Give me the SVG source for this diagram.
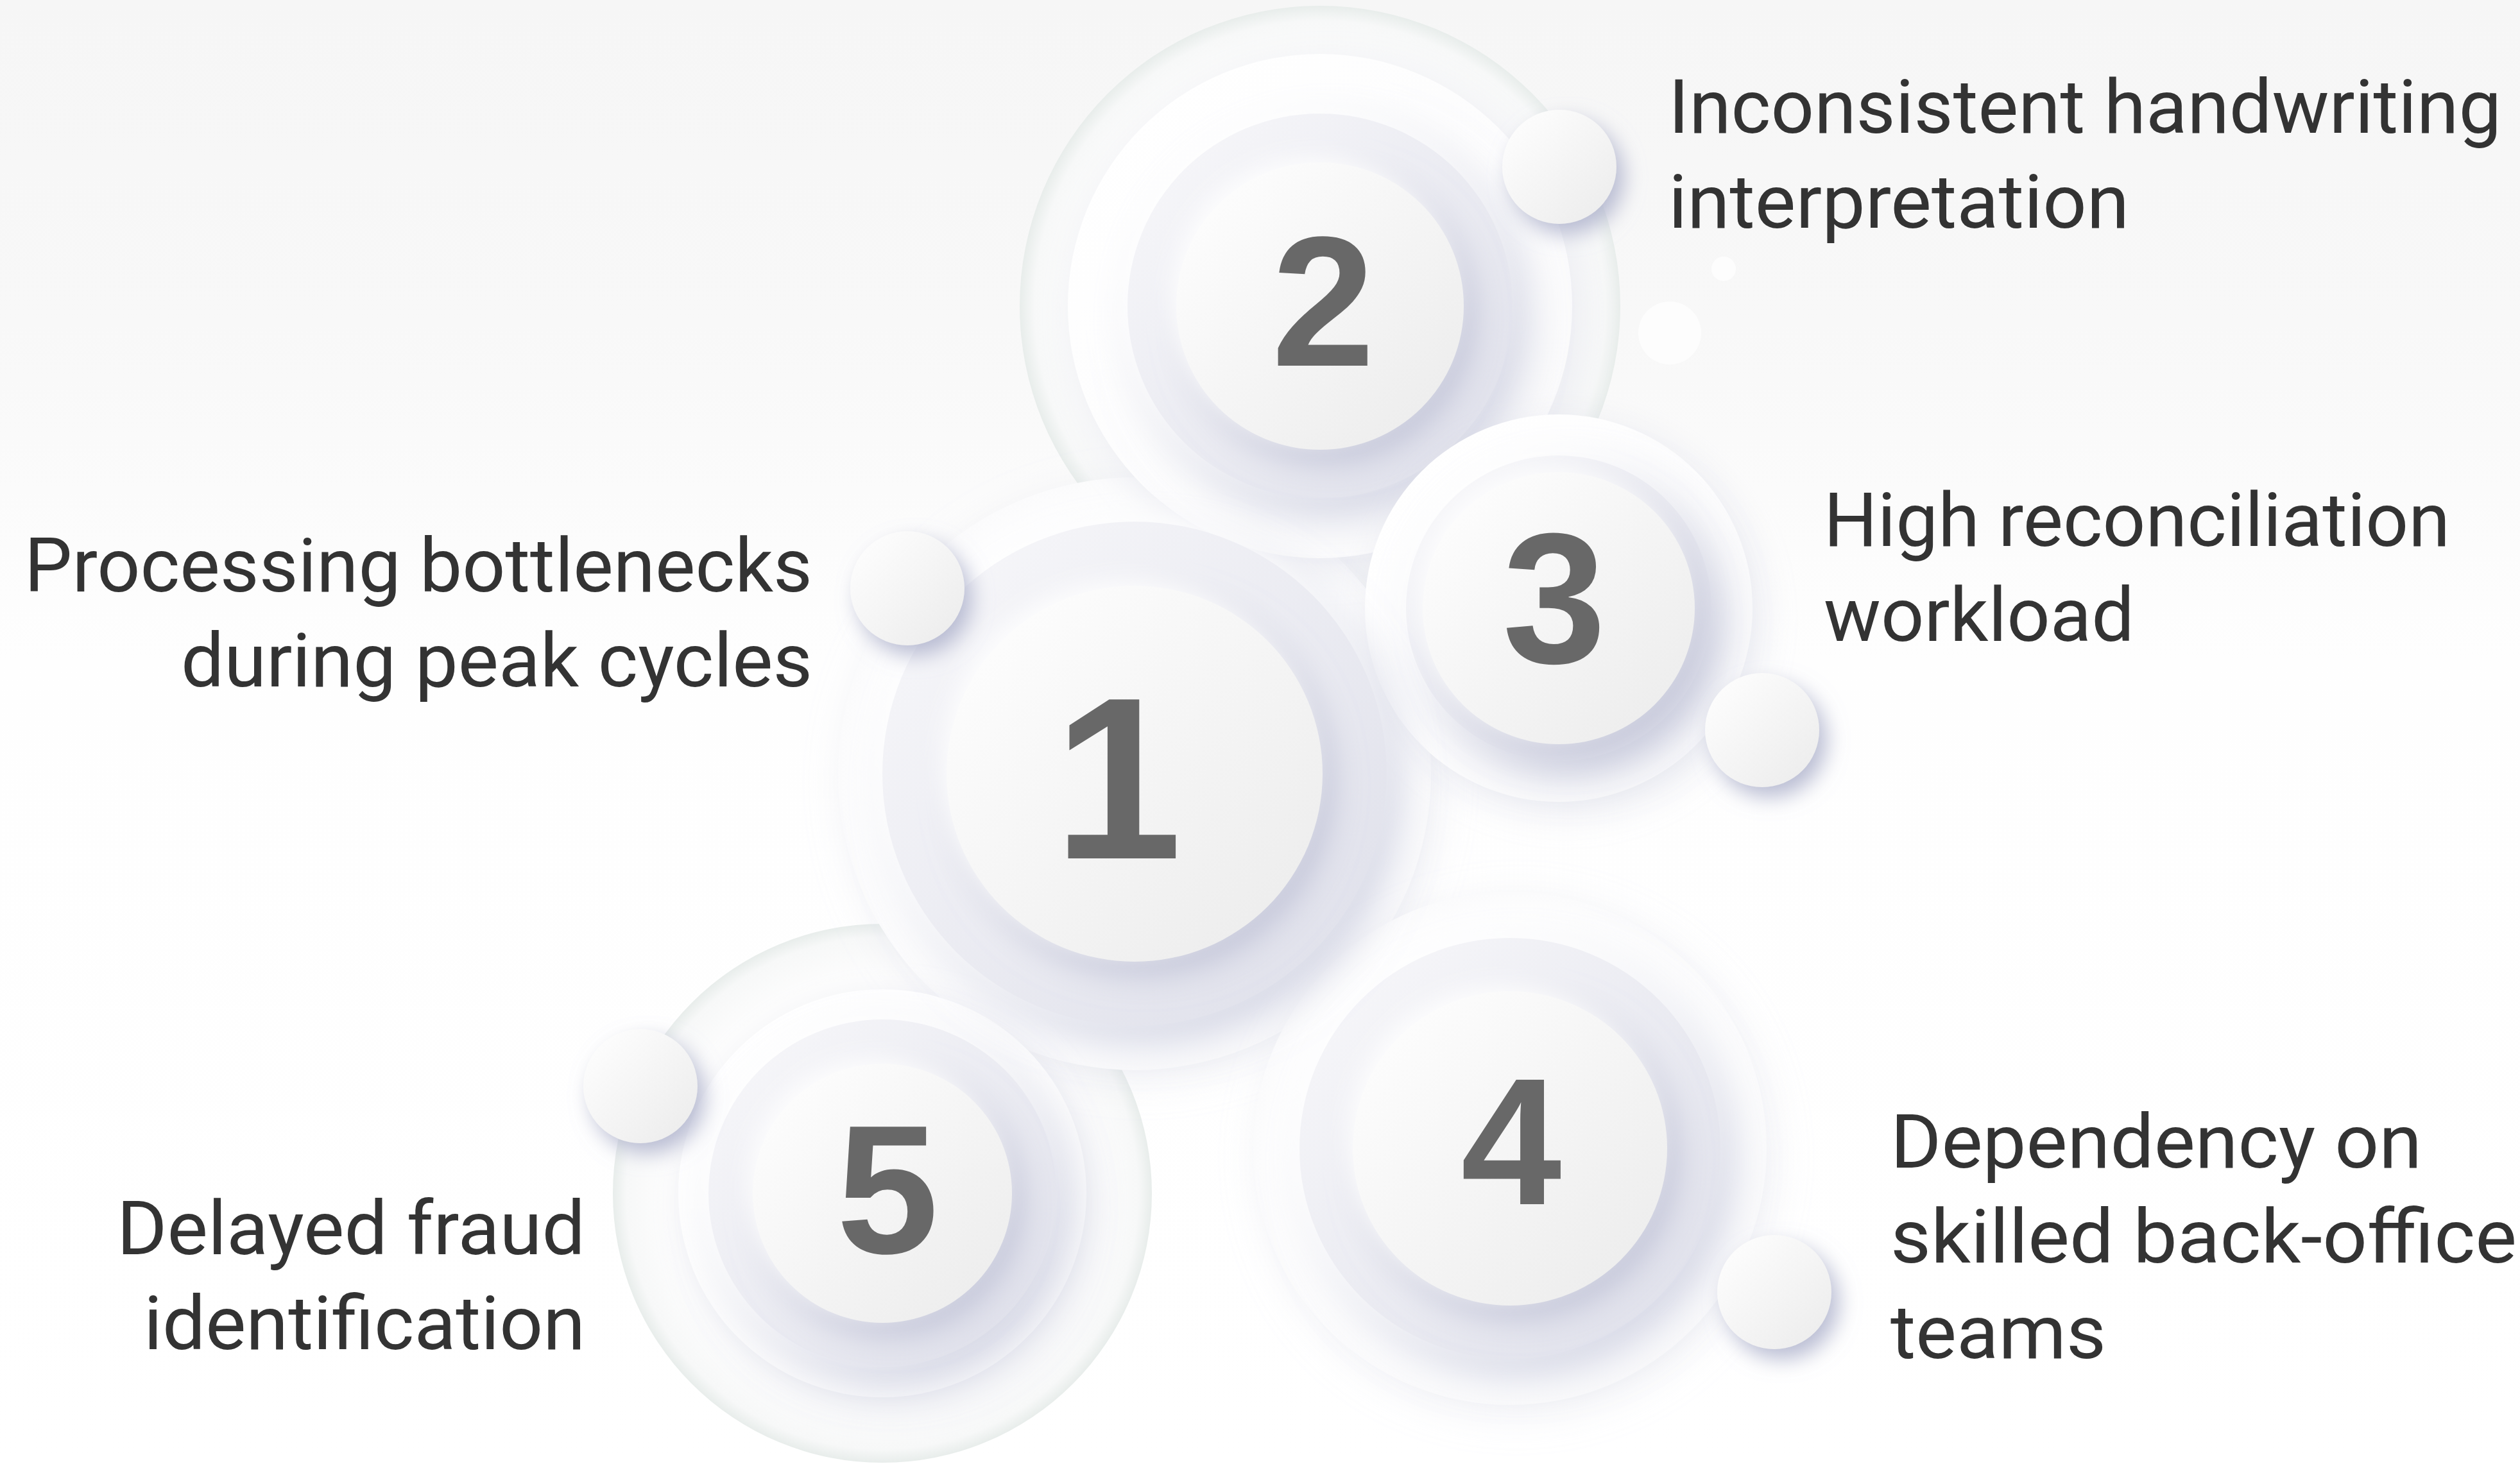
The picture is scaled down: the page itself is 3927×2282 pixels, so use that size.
<svg xmlns="http://www.w3.org/2000/svg" width="3927" height="2282" viewBox="0 0 3927 2282">
<style>
.lbl{font-family:Roboto,"Liberation Sans",sans-serif;font-size:116px;fill:#333333;}
.lblL{font-family:Roboto,"Liberation Sans",sans-serif;font-size:116px;fill:#333333;text-anchor:end;}
.num{font-family:"Liberation Sans",Arial,sans-serif;font-weight:bold;fill:#686868;text-anchor:middle;}
.inner{fill:url(#innerGrad);filter:url(#innerSh);}
.ring{fill:url(#ringGrad);filter:url(#ringSh);}
.white{fill:url(#whiteGrad);filter:url(#whiteSh);}
.ball{fill:url(#innerGrad);filter:url(#ballSh);}
</style>
<defs>
<linearGradient id="bg" x1="0" y1="0" x2="0" y2="1">
<stop offset="0" stop-color="#f6f6f6"/>
<stop offset="0.22" stop-color="#f8f8f8"/>
<stop offset="0.45" stop-color="#fefefe"/>
<stop offset="1" stop-color="#ffffff"/>
</linearGradient>
<linearGradient id="innerGrad" x1="0.15" y1="0.15" x2="0.85" y2="0.85">
<stop offset="0" stop-color="#fcfcfc"/>
<stop offset="1" stop-color="#eeeeee"/>
</linearGradient>
<linearGradient id="ringGrad" x1="0.1" y1="0.1" x2="0.9" y2="0.9">
<stop offset="0" stop-color="#f6f6f9"/>
<stop offset="1" stop-color="#e0e1eb"/>
</linearGradient>
<linearGradient id="whiteGrad" x1="0.1" y1="0.1" x2="0.9" y2="0.9">
<stop offset="0" stop-color="#ffffff"/>
<stop offset="1" stop-color="#fafafb"/>
</linearGradient>
<radialGradient id="haloGreen" cx="0.5" cy="0.5" r="0.5">
<stop offset="0.8" stop-color="#fdfdfd"/>
<stop offset="0.95" stop-color="#f7f8f8"/>
<stop offset="1" stop-color="#e8edeb"/>
</radialGradient>
<radialGradient id="halo" cx="0.5" cy="0.5" r="0.5">
<stop offset="0.85" stop-color="#ffffff"/>
<stop offset="1" stop-color="#fbfbfc"/>
</radialGradient>
<filter id="haloSh" x="-30%" y="-30%" width="160%" height="160%">
<feGaussianBlur in="SourceAlpha" stdDeviation="30"/>
<feOffset dx="10" dy="14" result="b"/>
<feFlood flood-color="#d6d8e4" flood-opacity="0.35"/>
<feComposite in2="b" operator="in" result="s"/>
<feMerge><feMergeNode in="s"/><feMergeNode in="SourceGraphic"/></feMerge>
</filter>
<filter id="whiteSh" x="-30%" y="-30%" width="160%" height="160%">
<feGaussianBlur in="SourceAlpha" stdDeviation="30"/>
<feOffset dx="12" dy="16" result="b"/>
<feFlood flood-color="#d3d5e2" flood-opacity="0.45"/>
<feComposite in2="b" operator="in" result="s"/>
<feMerge><feMergeNode in="s"/><feMergeNode in="SourceGraphic"/></feMerge>
</filter>
<filter id="ringSh" x="-30%" y="-30%" width="160%" height="160%">
<feGaussianBlur in="SourceAlpha" stdDeviation="34"/>
<feOffset dx="16" dy="22" result="b"/>
<feFlood flood-color="#c3c6da" flood-opacity="0.85"/>
<feComposite in2="b" operator="in" result="s"/>
<feGaussianBlur in="SourceAlpha" stdDeviation="22"/>
<feOffset dx="-16" dy="-16" result="b2"/>
<feFlood flood-color="#ffffff" flood-opacity="1"/>
<feComposite in2="b2" operator="in" result="h"/>
<feMerge><feMergeNode in="s"/><feMergeNode in="h"/><feMergeNode in="SourceGraphic"/></feMerge>
</filter>
<filter id="innerSh" x="-30%" y="-30%" width="160%" height="160%">
<feGaussianBlur in="SourceAlpha" stdDeviation="26"/>
<feOffset dx="14" dy="18" result="b"/>
<feFlood flood-color="#b7bad1" flood-opacity="0.8"/>
<feComposite in2="b" operator="in" result="s"/>
<feGaussianBlur in="SourceAlpha" stdDeviation="16"/>
<feOffset dx="-12" dy="-12" result="b2"/>
<feFlood flood-color="#ffffff" flood-opacity="0.9"/>
<feComposite in2="b2" operator="in" result="h"/>
<feMerge><feMergeNode in="s"/><feMergeNode in="h"/><feMergeNode in="SourceGraphic"/></feMerge>
</filter>
<filter id="ballSh" x="-60%" y="-60%" width="220%" height="220%">
<feGaussianBlur in="SourceAlpha" stdDeviation="16"/>
<feOffset dx="12" dy="16" result="b"/>
<feFlood flood-color="#aeb2cc" flood-opacity="0.85"/>
<feComposite in2="b" operator="in" result="s"/>
<feMerge><feMergeNode in="s"/><feMergeNode in="SourceGraphic"/></feMerge>
</filter>
</defs>

<rect id="background" x="0" y="0" width="3927" height="2282" fill="url(#bg)"/>

<g id="halos">
<circle cx="2057" cy="477" r="468" fill="url(#haloGreen)"/>
<circle cx="1375" cy="1860" r="420" fill="url(#haloGreen)"/>
<circle cx="1768" cy="1206" r="462" fill="url(#halo)" filter="url(#haloSh)"/>
<circle cx="2353" cy="1790" r="400" fill="url(#halo)" filter="url(#haloSh)"/>
<circle cx="2602" cy="519" r="49" fill="#fdfdfd"/>
<circle cx="2686" cy="419" r="19" fill="#fdfdfd"/>
</g>

<g id="node-2">
<circle class="white" cx="2057" cy="477" r="393"/>
<circle class="ring" cx="2057" cy="477" r="300"/>
<circle class="inner" cx="2057" cy="477" r="224"/>
<text class="num" x="2062" y="570" font-size="289">2</text>
<circle class="ball" cx="2430" cy="260" r="89"/>
<text class="lbl" x="2600" y="207" textLength="1298" lengthAdjust="spacingAndGlyphs">Inconsistent handwriting</text>
<text class="lbl" x="2600" y="355" textLength="718" lengthAdjust="spacingAndGlyphs">interpretation</text>
</g>

<g id="node-3">
<circle class="white" cx="2429" cy="948" r="302"/>
<circle class="ring" cx="2429" cy="948" r="238"/>
<circle class="inner" cx="2429" cy="948" r="212"/>
<text class="num" x="2422" y="1033" font-size="290">3</text>
<circle class="ball" cx="2746" cy="1138" r="89"/>
<text class="lbl" x="2842" y="851" textLength="976" lengthAdjust="spacingAndGlyphs">High reconciliation</text>
<text class="lbl" x="2842" y="999" textLength="484" lengthAdjust="spacingAndGlyphs">workload</text>
</g>

<g id="node-5">
<circle class="white" cx="1375" cy="1860" r="318"/>
<circle class="ring" cx="1375" cy="1860" r="271"/>
<circle class="inner" cx="1375" cy="1860" r="202"/>
<text class="num" x="1383" y="1953" font-size="286">5</text>
<circle class="ball" cx="998" cy="1693" r="89"/>
<text class="lblL" x="912" y="1955" textLength="730" lengthAdjust="spacingAndGlyphs">Delayed fraud</text>
<text class="lblL" x="912" y="2103" textLength="688" lengthAdjust="spacingAndGlyphs">identification</text>
</g>

<g id="node-4">
<circle class="ring" cx="2353" cy="1790" r="328"/>
<circle class="inner" cx="2353" cy="1790" r="245"/>
<text class="num" x="2355" y="1877" font-size="282">4</text>
<circle class="ball" cx="2765" cy="2014" r="89"/>
<text class="lbl" x="2946" y="1820" textLength="828" lengthAdjust="spacingAndGlyphs">Dependency on</text>
<text class="lbl" x="2946" y="1968" textLength="976" lengthAdjust="spacingAndGlyphs">skilled back-office</text>
<text class="lbl" x="2946" y="2117" textLength="336" lengthAdjust="spacingAndGlyphs">teams</text>
</g>

<g id="node-1">
<circle class="ring" cx="1768" cy="1206" r="393"/>
<circle class="inner" cx="1768" cy="1206" r="293"/>
<text class="num" x="1742" y="1338" font-size="360">1</text>
<circle class="ball" cx="1414" cy="917" r="89"/>
<text class="lblL" x="1266" y="922" textLength="1228" lengthAdjust="spacingAndGlyphs">Processing bottlenecks</text>
<text class="lblL" x="1266" y="1070" textLength="984" lengthAdjust="spacingAndGlyphs">during peak cycles</text>
</g>
</svg>
